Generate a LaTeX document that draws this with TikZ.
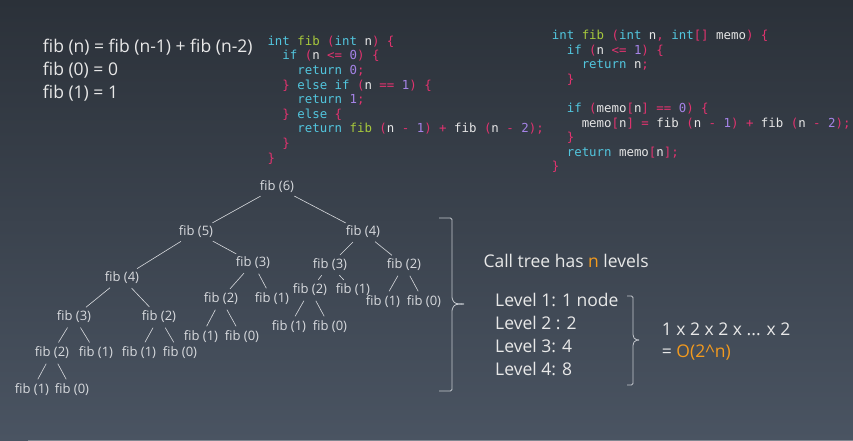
\documentclass[tikz,border=0pt]{standalone}
\usepackage{fontspec}
\setmainfont{Open Sans}
\setmonofont{DejaVu Sans Mono}
\usetikzlibrary{calc}
\definecolor{BgTop}{HTML}{2B3139}
\definecolor{BgBot}{HTML}{4A5462}
\definecolor{TxtC}{HTML}{E8E8E8}
\definecolor{TreeC}{HTML}{D8DADE}
\definecolor{BraceC}{HTML}{C4C8CE}
\definecolor{Orng}{HTML}{F39A1E}
\definecolor{KwC}{HTML}{52C6DE}
\definecolor{FnC}{HTML}{A7C93C}
\definecolor{PkC}{HTML}{E2336F}
\definecolor{NumC}{HTML}{A583E6}
\definecolor{VarC}{HTML}{E6E6E6}
\newcommand{\ckw}[1]{\textcolor{KwC}{#1}}
\newcommand{\cfn}[1]{\textcolor{FnC}{#1}}
\newcommand{\cpk}[1]{\textcolor{PkC}{#1}}
\newcommand{\cnum}[1]{\textcolor{NumC}{#1}}
\newcommand{\cvar}[1]{\textcolor{VarC}{#1}}
\newcommand{\ind}{\hphantom{xx}}
\tikzset{
  txt/.style={text=TxtC, font=\fontsize{17.5}{20}\selectfont, anchor=west, inner sep=0pt},
  tnode/.style={text=TreeC, font=\fontsize{13}{14}\selectfont, inner sep=1pt},
  tedge/.style={TreeC, line width=0.6pt, shorten <=4pt, shorten >=4pt},
  codeblock/.style={font=\ttfamily\fontsize{12.4}{14.6}\selectfont, align=left, anchor=base west, inner sep=0pt},
  bracepath/.style={BraceC, line width=0.8pt, rounded corners=1.5pt}
}

\begin{document}
\begin{tikzpicture}[x=1pt, y=-1pt]
\useasboundingbox (0,0) rectangle (853,441);
\shade[top color=BgTop, bottom color=BgBot] (0,0) rectangle (853,441);
\fill[BgBot!70!white] (28,439.5) rectangle (853,441);

% recurrence
\node[txt] (rec) at (42.7,47.3) {fib (n) = fib (n-1) + fib (n-2)};
\node[txt] (base0) at (42.7,70) {fib (0) = 0};
\node[txt] (base1) at (42.7,92.7) {fib (1) = 1};

% plain recursion (base anchor = baseline of the last line)
\node[codeblock] (code1) at (267.3,162) {%
\ckw{int} \cfn{fib} \cpk{(}\ckw{int} \cvar{n}\cpk{)} \cpk{\{}\\
\ind\ckw{if} \cpk{(}\cvar{n} \cpk{<=} \cnum{0}\cpk{)} \cpk{\{}\\
\ind\ind\ckw{return} \cnum{0}\cpk{;}\\
\ind\cpk{\}} \ckw{else if} \cpk{(}\cvar{n} \cpk{==} \cnum{1}\cpk{)} \cpk{\{}\\
\ind\ind\ckw{return} \cnum{1}\cpk{;}\\
\ind\cpk{\}} \ckw{else} \cpk{\{}\\
\ind\ind\ckw{return} \cfn{fib} \cpk{(}\cvar{n} \cpk{-} \cnum{1}\cpk{)} \cpk{+} \cvar{fib} \cpk{(}\cvar{n} \cpk{-} \cnum{2}\cpk{);}\\
\ind\cpk{\}}\\
\cpk{\}}};

% memoised version
\node[codeblock] (code2) at (551.7,170.9) {%
\ckw{int} \cfn{fib} \cpk{(}\ckw{int} \cvar{n}\cpk{,} \ckw{int}\cpk{[]} \cvar{memo}\cpk{)} \cpk{\{}\\
\ind\ckw{if} \cpk{(}\cvar{n} \cpk{<=} \cnum{1}\cpk{)} \cpk{\{}\\
\ind\ind\ckw{return} \cvar{n}\cpk{;}\\
\ind\cpk{\}}\\
\mbox{}\\
\ind\ckw{if} \cpk{(}\cvar{memo}\cpk{[}\cvar{n}\cpk{]} \cpk{==} \cnum{0}\cpk{)} \cpk{\{}\\
\ind\ind\cvar{memo}\cpk{[}\cvar{n}\cpk{]} \cpk{=} \cvar{fib} \cpk{(}\cvar{n} \cpk{-} \cnum{1}\cpk{)} \cpk{+} \cvar{fib} \cpk{(}\cvar{n} \cpk{-} \cnum{2}\cpk{);}\\
\ind\cpk{\}}\\
\ind\ckw{return} \cvar{memo}\cpk{[}\cvar{n}\cpk{];}\\
\cpk{\}}};

% call tree
\node[tnode] (t) at (277,187) {fib (6)};
\node[tnode] (tL) at (196,232) {fib (5)};
\node[tnode] (tR) at (363,232) {fib (4)};
\node[tnode] (tLL) at (122,278) {fib (4)};
\node[tnode] (tLR) at (253,263) {fib (3)};
\node[tnode] (tRL) at (330,265) {fib (3)};
\node[tnode] (tRR) at (404,265) {fib (2)};
\node[tnode] (tLLL) at (74,317) {fib (3)};
\node[tnode] (tLLR) at (159,317) {fib (2)};
\node[tnode] (tLRL) at (221,299) {fib (2)};
\node[tnode] (tLRR) at (272,299) {fib (1)};
\node[tnode] (tRLL) at (310,290) {fib (2)};
\node[tnode] (tRLR) at (353,290) {fib (1)};
\node[tnode] (tRRL) at (383,302) {fib (1)};
\node[tnode] (tRRR) at (424,302) {fib (0)};
\node[tnode] (tLLLL) at (52,353) {fib (2)};
\node[tnode] (tLLLR) at (96,353) {fib (1)};
\node[tnode] (tLLRL) at (139,353) {fib (1)};
\node[tnode] (tLLRR) at (180,353) {fib (0)};
\node[tnode] (tLRLL) at (201,337) {fib (1)};
\node[tnode] (tLRLR) at (242,337) {fib (0)};
\node[tnode] (tRLLL) at (289,327) {fib (1)};
\node[tnode] (tRLLR) at (330,327) {fib (0)};
\node[tnode] (tLLLLL) at (32,390) {fib (1)};
\node[tnode] (tLLLLR) at (72,390) {fib (0)};

\foreach \p/\c in {t/tL, t/tR, tL/tLL, tL/tLR, tR/tRL, tR/tRR,
    tLL/tLLL, tLL/tLLR, tLR/tLRL, tLR/tLRR, tRL/tRLL, tRL/tRLR,
    tRR/tRRL, tRR/tRRR, tLLL/tLLLL, tLLL/tLLLR, tLLR/tLLRL, tLLR/tLLRR,
    tLRL/tLRLL, tLRL/tLRLR, tRLL/tRLLL, tRLL/tRLLR, tLLLL/tLLLLL, tLLLL/tLLLLR}
  \draw[tedge] (\p) -- (\c);

% braces
\draw[bracepath] (439,218) -- (452,218) -- (452,299) -- (455,303.5) -- (464,304);
\draw[bracepath] (464,304) -- (455,304.5) -- (452,309) -- (452,391) -- (439,391);
\draw[bracepath] (627,296) -- (633,296) -- (633,336) -- (635,339.5) -- (639,340);
\draw[bracepath] (639,340) -- (635,340.5) -- (633,344) -- (633,385) -- (627,385);

% levels
\node[txt] (calls) at (483.3,260.7) {Call tree has \textcolor{Orng}{n} levels};
\node[txt] (lv1) at (495,300) {Level 1: 1 node};
\node[txt] (lv2) at (495,323) {Level 2 : 2};
\node[txt] (lv3) at (495,346) {Level 3: 4};
\node[txt] (lv4) at (495,369) {Level 4: 8};
\node[txt] (prod) at (661.7,329) {1 x 2 x 2 x ... x 2};
\node[txt] (bigo) at (661.7,352.7) {= \textcolor{Orng}{O(2\textasciicircum n)}};
\end{tikzpicture}
\end{document}
